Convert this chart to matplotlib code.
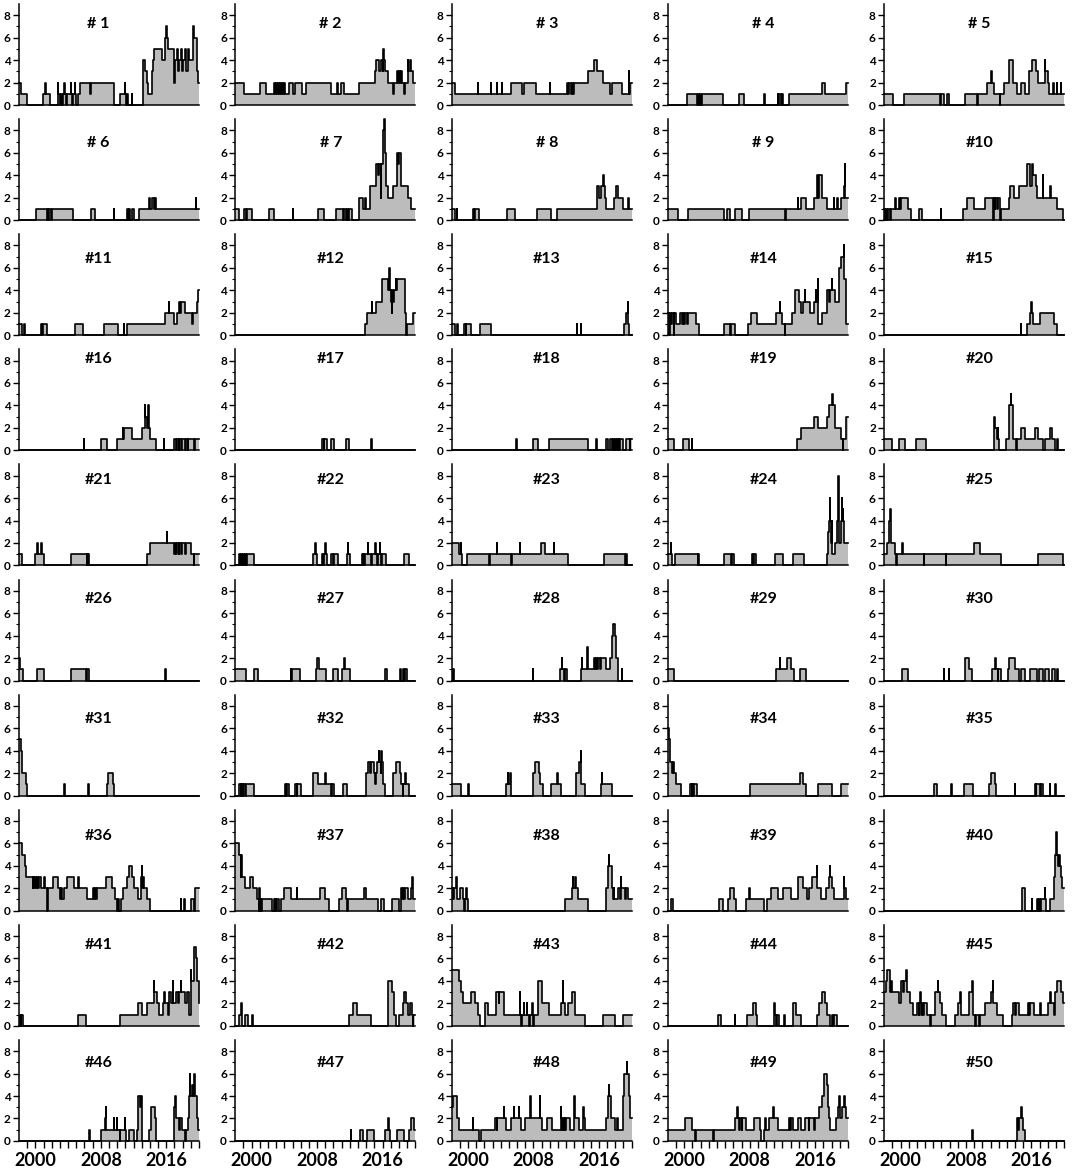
"""Small-multiples step charts, 50 panels of yearly counts (1998-2020)."""

import matplotlib

matplotlib.use("Agg")
import matplotlib.pyplot as plt
from matplotlib.ticker import FixedLocator
import matplotlib.transforms as mtransforms

plt.rcParams["font.family"] = ["Lato", "DejaVu Sans"]
plt.rcParams["font.weight"] = "bold"

# each panel: (year the level starts, level) -- held until the next entry / 2020
P01 = [(1998.0, 2), (1998.2, 1), (1999.0, 0), (2000.9, 1), (2001.2, 2), (2001.26, 1), (2001.8, 0),
       (2002.75, 2), (2002.8, 1), (2003.0, 0), (2003.1, 1), (2003.3, 0), (2003.4, 1), (2003.55, 2),
       (2003.6, 1), (2003.8, 0), (2003.9, 1), (2004.3, 2), (2004.35, 1), (2004.5, 0), (2004.6, 1),
       (2004.85, 2), (2004.9, 1), (2005.0, 0), (2005.15, 1), (2005.4, 2), (2006.7, 1), (2006.75, 2),
       (2009.6, 0), (2010.4, 1), (2010.9, 2), (2010.95, 1), (2011.1, 0), (2011.2, 1), (2011.3, 0),
       (2011.8, 1), (2011.85, 0), (2013.1, 1), (2013.2, 4), (2013.45, 3), (2013.6, 2), (2013.75, 1),
       (2014.2, 3), (2014.35, 4), (2014.5, 5), (2015.5, 4), (2015.8, 6), (2016.0, 7), (2016.1, 6),
       (2016.2, 5), (2017.0, 2), (2017.1, 4), (2017.35, 5), (2017.4, 3), (2017.6, 4), (2017.85, 5),
       (2017.9, 3), (2018.1, 4), (2018.3, 5), (2018.35, 3), (2018.6, 4), (2018.7, 5), (2018.75, 4),
       (2019.3, 7), (2019.4, 6), (2019.7, 4), (2019.8, 3), (2019.9, 2)]
P02 = [(1998.0, 2), (1999.05, 1), (2001.0, 2), (2001.8, 1), (2002.75, 2), (2002.85, 1), (2002.95, 2),
       (2003.1, 1), (2003.2, 2), (2003.35, 1), (2003.5, 2), (2003.6, 1), (2003.75, 2), (2003.85, 1),
       (2004.0, 2), (2004.1, 1), (2004.55, 2), (2005.0, 1), (2005.3, 2), (2006.15, 1), (2006.7, 2),
       (2009.65, 1), (2010.4, 2), (2010.5, 1), (2010.95, 2), (2011.3, 1), (2013.15, 2), (2015.1, 3),
       (2015.25, 4), (2015.6, 3), (2015.75, 4), (2016.0, 3), (2016.05, 5), (2016.15, 4), (2016.35, 3),
       (2016.65, 2), (2017.3, 1), (2017.35, 2), (2017.75, 3), (2017.85, 2), (2018.0, 3), (2018.1, 2),
       (2018.2, 3), (2018.4, 2), (2018.6, 1), (2018.7, 2), (2019.05, 4), (2019.15, 3), (2019.4, 4),
       (2019.5, 3), (2019.7, 2)]
P03 = [(1998.0, 2), (1998.4, 1), (2001.2, 2), (2001.26, 1), (2002.8, 2), (2002.86, 1), (2003.5, 2),
       (2003.56, 1), (2004.1, 2), (2004.16, 1), (2005.2, 2), (2006.55, 1), (2006.8, 2), (2008.35, 1),
       (2010.0, 2), (2010.06, 1), (2012.1, 2), (2012.25, 1), (2012.4, 2), (2012.55, 1), (2012.7, 2),
       (2012.85, 1), (2013.0, 2), (2014.7, 3), (2015.4, 4), (2015.8, 3), (2016.5, 2), (2017.3, 1),
       (2017.6, 2), (2018.8, 1), (2019.65, 3), (2019.72, 1), (2019.8, 2)]
P04 = [(1998.0, 0), (2000.3, 1), (2001.6, 0), (2001.7, 1), (2001.8, 0), (2001.9, 1), (2002.0, 0),
       (2002.15, 1), (2004.7, 0), (2006.75, 1), (2007.3, 0), (2009.8, 1), (2009.86, 0), (2011.4, 1),
       (2011.5, 0), (2011.6, 1), (2011.8, 0), (2011.9, 1), (2012.1, 0), (2012.8, 1), (2016.8, 2),
       (2017.25, 1), (2019.8, 2)]
P05 = [(1998.0, 1), (1999.1, 0), (2000.4, 1), (2004.8, 0), (2005.0, 1), (2005.35, 0), (2005.7, 1),
       (2005.9, 0), (2007.9, 1), (2009.4, 0), (2009.5, 1), (2010.6, 2), (2011.0, 3), (2011.2, 2),
       (2011.4, 1), (2012.1, 0), (2012.15, 1), (2012.7, 2), (2013.3, 4), (2013.8, 2), (2014.2, 1),
       (2014.7, 2), (2015.15, 1), (2015.75, 3), (2016.05, 4), (2016.5, 3), (2016.8, 2), (2017.6, 4),
       (2017.65, 3), (2018.0, 2), (2018.2, 1), (2018.65, 2), (2018.7, 1), (2019.1, 2), (2019.15, 1),
       (2019.6, 2), (2019.65, 1)]
P06 = [(1998.0, 0), (2000.1, 1), (2001.4, 0), (2001.5, 1), (2001.6, 0), (2001.7, 1), (2001.9, 0),
       (2002.05, 1), (2004.6, 0), (2006.8, 1), (2007.3, 0), (2009.6, 1), (2009.66, 0), (2011.2, 1),
       (2011.3, 0), (2011.45, 1), (2011.55, 0), (2011.75, 1), (2012.1, 0), (2012.7, 1), (2013.9, 2),
       (2014.0, 1), (2014.3, 2), (2014.5, 1), (2014.6, 2), (2014.7, 1), (2019.6, 2), (2019.66, 1)]
P07 = [(1998.0, 1), (1998.45, 0), (1999.05, 1), (1999.3, 0), (1999.4, 1), (2000.05, 0), (2002.15, 1),
       (2002.7, 0), (2005.0, 1), (2005.06, 0), (2008.05, 1), (2008.9, 0), (2010.3, 1), (2011.2, 0),
       (2011.3, 1), (2011.5, 0), (2011.6, 1), (2011.8, 0), (2011.9, 1), (2012.3, 0), (2013.15, 2),
       (2013.6, 1), (2013.8, 2), (2014.0, 1), (2014.45, 3), (2015.25, 5), (2015.4, 4), (2015.55, 5),
       (2015.75, 2), (2015.8, 5), (2016.0, 7), (2016.1, 8), (2016.2, 9), (2016.26, 7), (2016.35, 6),
       (2016.45, 3), (2016.65, 2), (2017.3, 3), (2017.75, 6), (2017.85, 5), (2017.95, 6), (2018.2, 3),
       (2019.05, 2), (2019.5, 1)]
P08 = [(1998.0, 1), (1998.4, 0), (1998.65, 1), (1998.71, 0), (2000.6, 1), (2000.75, 0), (2000.85, 1),
       (2001.3, 0), (2004.8, 1), (2005.7, 0), (2008.4, 1), (2010.1, 0), (2010.9, 1), (2015.8, 3),
       (2016.0, 2), (2016.3, 3), (2016.55, 4), (2016.62, 3), (2016.7, 2), (2016.9, 1), (2017.8, 2),
       (2018.1, 3), (2018.3, 2), (2018.9, 1), (2019.6, 2), (2019.66, 1)]
P09 = [(1998.0, 1), (1999.2, 0), (2000.5, 1), (2004.9, 0), (2005.2, 1), (2005.6, 0), (2006.2, 1),
       (2007.1, 0), (2007.9, 1), (2012.35, 0), (2012.4, 1), (2013.9, 2), (2013.96, 1), (2014.3, 2),
       (2014.9, 1), (2015.85, 2), (2016.2, 4), (2016.4, 2), (2016.5, 4), (2016.85, 2), (2017.4, 1),
       (2018.25, 2), (2018.31, 1), (2018.7, 2), (2018.76, 1), (2019.2, 2), (2019.55, 3), (2019.65, 5),
       (2019.7, 2)]
P10 = [(1998.0, 1), (1998.15, 0), (1998.25, 1), (1998.4, 0), (1998.5, 1), (1998.7, 0), (1998.8, 1),
       (1999.35, 2), (1999.41, 1), (1999.75, 2), (1999.9, 1), (2000.0, 2), (2000.85, 1), (2001.3, 0),
       (2002.2, 1), (2002.6, 0), (2004.9, 1), (2004.96, 0), (2007.65, 1), (2008.1, 2), (2009.0, 1),
       (2010.3, 2), (2011.3, 0), (2011.36, 2), (2011.5, 1), (2011.6, 2), (2011.8, 1), (2011.9, 2),
       (2012.2, 0), (2012.26, 1), (2013.2, 2), (2013.4, 3), (2013.85, 2), (2014.5, 3), (2015.4, 5),
       (2015.8, 3), (2016.1, 5), (2016.2, 4), (2016.5, 3), (2016.7, 2), (2017.4, 4), (2017.46, 2),
       (2018.3, 3), (2018.36, 2), (2019.1, 1), (2019.8, 0)]
P11 = [(1998.0, 1), (1998.35, 0), (1998.65, 1), (1998.71, 0), (2000.7, 1), (2000.8, 0), (2000.9, 1),
       (2001.4, 0), (2004.8, 1), (2005.8, 0), (2008.35, 1), (2010.1, 0), (2010.8, 1), (2010.86, 0),
       (2011.2, 1), (2015.8, 2), (2016.3, 3), (2016.36, 2), (2017.0, 1), (2017.3, 2), (2017.55, 3),
       (2017.7, 2), (2017.8, 3), (2018.3, 2), (2019.2, 1), (2019.26, 2), (2019.8, 3), (2019.9, 4)]
P12 = [(1998.0, 0), (2013.8, 1), (2014.05, 2), (2014.7, 3), (2014.76, 2), (2015.2, 3), (2015.9, 5),
       (2016.65, 4), (2016.75, 6), (2016.85, 4), (2017.05, 3), (2017.15, 2), (2017.2, 4), (2017.3, 3),
       (2017.35, 4), (2017.6, 5), (2017.7, 4), (2017.8, 5), (2018.7, 2), (2018.85, 0), (2018.95, 1),
       (2019.7, 2)]
P13 = [(1998.0, 1), (1998.4, 0), (1998.6, 1), (1998.8, 0), (1999.5, 1), (1999.7, 0), (1999.8, 1),
       (2000.4, 0), (2001.5, 1), (2002.8, 0), (2013.3, 1), (2013.36, 0), (2013.8, 1), (2013.86, 0),
       (2019.1, 1), (2019.3, 2), (2019.5, 3), (2019.56, 1), (2019.7, 0)]
P14 = [(1998.0, 2), (1998.15, 0), (1998.25, 2), (1998.4, 1), (1998.5, 2), (1998.7, 0), (1998.8, 2),
       (1999.0, 1), (1999.45, 2), (1999.7, 1), (1999.8, 2), (2000.0, 1), (2000.1, 2), (2000.3, 1),
       (2000.4, 2), (2001.4, 1), (2001.85, 0), (2004.9, 1), (2005.6, 0), (2005.7, 1), (2006.2, 0),
       (2007.75, 1), (2008.2, 2), (2008.85, 1), (2011.25, 2), (2011.65, 3), (2011.72, 2), (2012.0, 1),
       (2012.3, 0), (2012.36, 1), (2013.2, 2), (2013.55, 4), (2014.0, 3), (2014.3, 2), (2014.55, 3),
       (2014.7, 4), (2014.76, 3), (2015.4, 2), (2015.85, 3), (2016.1, 4), (2016.15, 3), (2016.35, 5),
       (2016.4, 1), (2016.85, 2), (2017.4, 4), (2017.7, 3), (2017.8, 4), (2018.0, 5), (2018.1, 4),
       (2018.4, 3), (2018.9, 6), (2019.1, 7), (2019.5, 8), (2019.56, 5), (2019.8, 1)]
P15 = [(1998.0, 0), (2014.7, 1), (2014.76, 0), (2015.4, 1), (2015.8, 2), (2016.0, 3), (2016.06, 2),
       (2016.2, 1), (2017.1, 2), (2018.7, 1), (2019.1, 0)]
P16 = [(1998.0, 0), (2005.9, 1), (2005.96, 0), (2008.05, 1), (2008.8, 0), (2010.0, 1), (2010.65, 2),
       (2010.75, 1), (2010.85, 2), (2011.85, 1), (2013.0, 2), (2013.4, 4), (2013.46, 3), (2013.6, 2),
       (2013.8, 4), (2013.86, 2), (2014.0, 1), (2014.8, 0), (2015.7, 1), (2015.76, 0), (2017.0, 1),
       (2017.2, 0), (2017.3, 1), (2017.5, 0), (2017.6, 1), (2017.8, 0), (2017.9, 1), (2018.3, 0),
       (2018.4, 1), (2018.6, 0), (2018.7, 1), (2019.4, 0), (2019.55, 1)]
P17 = [(1998.0, 0), (2008.6, 1), (2008.8, 0), (2008.9, 1), (2009.15, 0), (2009.65, 1), (2010.1, 0),
       (2011.5, 1), (2011.85, 0), (2014.6, 1), (2014.66, 0)]
P18 = [(1998.0, 0), (2005.9, 1), (2005.96, 0), (2007.9, 1), (2008.6, 0), (2009.9, 1), (2014.7, 0),
       (2015.7, 1), (2015.76, 0), (2016.9, 1), (2017.1, 0), (2017.3, 1), (2017.6, 0), (2017.7, 1),
       (2017.9, 0), (2018.0, 1), (2018.1, 0), (2018.2, 1), (2018.3, 0), (2018.4, 1), (2018.5, 0),
       (2018.6, 1), (2019.0, 0), (2019.3, 1), (2019.75, 0), (2019.85, 1)]
P19 = [(1998.0, 1), (1998.8, 0), (1999.9, 1), (2000.55, 0), (2000.9, 1), (2000.96, 0), (2013.75, 1),
       (2014.3, 2), (2015.85, 3), (2016.3, 2), (2017.4, 3), (2017.7, 4), (2018.1, 5), (2018.2, 4),
       (2018.4, 2), (2019.1, 1), (2019.35, 0), (2019.45, 1), (2019.8, 3)]
P20 = [(1998.0, 1), (1999.0, 0), (1999.75, 1), (2000.55, 0), (2001.9, 1), (2003.05, 0), (2011.4, 3),
       (2011.5, 2), (2011.75, 1), (2011.85, 2), (2011.95, 1), (2012.05, 0), (2012.9, 1), (2013.25, 4),
       (2013.45, 5), (2013.55, 4), (2013.7, 1), (2014.1, 0), (2014.2, 1), (2014.7, 2), (2015.15, 1),
       (2016.4, 2), (2016.8, 1), (2017.35, 0), (2017.6, 1), (2018.25, 2), (2018.5, 1), (2018.9, 0),
       (2019.15, 1), (2019.2, 0)]
P21 = [(1998.0, 1), (1998.35, 0), (1999.9, 1), (2000.25, 2), (2000.3, 1), (2000.75, 2), (2000.8, 1),
       (2001.1, 0), (2004.3, 1), (2006.25, 0), (2006.3, 1), (2006.4, 0), (2006.45, 1), (2006.6, 0),
       (2013.7, 1), (2014.0, 2), (2016.05, 3), (2016.1, 2), (2017.0, 1), (2017.1, 2), (2017.2, 1),
       (2017.3, 2), (2017.55, 1), (2017.6, 2), (2017.8, 1), (2017.9, 2), (2018.25, 1), (2018.35, 2),
       (2019.0, 1), (2019.35, 0), (2019.41, 1)]
P22 = [(1998.0, 0), (1998.4, 1), (1998.55, 0), (1998.65, 1), (1998.8, 0), (1998.9, 1), (1999.1, 0),
       (1999.2, 1), (1999.35, 0), (1999.45, 1), (2000.3, 0), (2007.5, 1), (2007.8, 2), (2007.86, 1),
       (2007.95, 0), (2008.55, 1), (2008.7, 0), (2008.8, 1), (2009.0, 2), (2009.06, 1), (2009.2, 0),
       (2009.65, 1), (2010.0, 0), (2010.1, 1), (2010.5, 0), (2011.6, 1), (2011.75, 2), (2011.81, 1),
       (2012.0, 0), (2013.45, 1), (2013.55, 0), (2013.65, 1), (2013.75, 0), (2013.85, 1), (2014.2, 2),
       (2014.26, 1), (2014.6, 0), (2014.66, 1), (2015.1, 2), (2015.16, 1), (2015.3, 0), (2015.4, 1),
       (2015.65, 2), (2015.71, 1), (2015.8, 0), (2015.9, 1), (2016.4, 0), (2018.6, 1), (2019.25, 0)]
P23 = [(1998.0, 2), (1998.9, 1), (1999.1, 2), (1999.2, 1), (1999.3, 0), (1999.9, 1), (2002.6, 0),
       (2002.66, 1), (2003.5, 2), (2003.56, 1), (2005.3, 0), (2005.36, 1), (2006.3, 2), (2006.36, 1),
       (2008.9, 2), (2009.45, 1), (2010.5, 2), (2010.56, 1), (2012.2, 0), (2016.6, 1), (2019.2, 0),
       (2019.3, 1), (2019.4, 0)]
P24 = [(1998.0, 1), (1998.35, 2), (1998.41, 1), (1998.55, 0), (1998.9, 1), (2001.65, 0), (2001.7, 1),
       (2001.85, 0), (2004.9, 1), (2005.75, 0), (2005.85, 1), (2006.1, 0), (2008.3, 1), (2008.45, 0),
       (2008.55, 1), (2008.75, 0), (2011.1, 1), (2012.1, 0), (2013.3, 1), (2014.6, 0), (2017.4, 1),
       (2017.6, 3), (2017.75, 4), (2017.8, 6), (2017.86, 4), (2017.95, 2), (2018.05, 4), (2018.11, 1),
       (2018.4, 2), (2018.7, 4), (2018.85, 8), (2018.91, 2), (2019.1, 4), (2019.25, 6), (2019.31, 4),
       (2019.4, 5), (2019.46, 4), (2019.55, 2)]
P25 = [(1998.0, 1), (1998.3, 2), (1998.6, 4), (1998.75, 5), (1998.81, 2), (1999.3, 1), (1999.45, 0),
       (1999.6, 1), (2000.2, 2), (2000.26, 1), (2002.85, 0), (2002.9, 1), (2005.55, 0), (2005.6, 1),
       (2009.0, 2), (2009.65, 1), (2012.3, 0), (2016.8, 1), (2019.8, 0)]
P26 = [(1998.0, 2), (1998.1, 1), (1998.5, 0), (2000.2, 1), (2001.1, 0), (2004.3, 1), (2006.2, 0),
       (2006.25, 1), (2006.5, 0), (2015.9, 1), (2015.96, 0)]
P27 = [(1998.0, 1), (1999.3, 0), (2000.25, 1), (2000.8, 0), (2004.75, 1), (2004.85, 0), (2004.9, 1),
       (2005.95, 0), (2007.9, 1), (2008.0, 2), (2008.2, 1), (2009.1, 0), (2010.0, 1), (2010.5, 0),
       (2011.1, 1), (2011.3, 2), (2011.45, 1), (2012.0, 0), (2016.35, 1), (2016.6, 0), (2018.1, 1),
       (2018.3, 0), (2018.45, 1), (2018.6, 0), (2018.7, 1), (2019.0, 0)]
P28 = [(1998.0, 0), (1998.2, 1), (1998.26, 0), (2007.9, 1), (2007.96, 0), (2011.3, 1), (2011.45, 2),
       (2011.51, 1), (2011.7, 0), (2011.8, 1), (2012.1, 0), (2013.8, 1), (2013.9, 2), (2013.96, 1),
       (2014.6, 3), (2014.66, 1), (2015.4, 2), (2015.55, 1), (2015.65, 2), (2015.8, 1), (2015.9, 2),
       (2016.1, 1), (2016.2, 2), (2016.9, 1), (2017.3, 2), (2017.6, 4), (2017.75, 5), (2017.95, 4),
       (2018.05, 2), (2018.3, 0), (2018.8, 1), (2018.86, 0)]
P29 = [(1998.0, 1), (1998.8, 0), (2011.25, 1), (2011.65, 2), (2011.71, 1), (2012.55, 2), (2013.0, 1),
       (2013.4, 0), (2014.2, 1), (2014.85, 0)]
P30 = [(1998.0, 0), (2000.2, 1), (2000.85, 0), (2005.25, 1), (2005.31, 0), (2005.9, 1), (2005.96, 0),
       (2007.9, 2), (2008.35, 1), (2008.7, 0), (2011.2, 1), (2011.55, 2), (2011.61, 1), (2011.85, 0),
       (2011.9, 1), (2012.3, 0), (2013.1, 1), (2013.3, 2), (2014.0, 1), (2014.5, 0), (2014.7, 1),
       (2015.15, 0), (2015.8, 1), (2016.7, 0), (2016.9, 1), (2017.45, 0), (2017.7, 1), (2018.2, 0),
       (2018.45, 1), (2018.9, 0), (2019.1, 1), (2019.3, 0)]
P31 = [(1998.0, 5), (1998.2, 4), (1998.35, 2), (1998.8, 1), (1999.0, 0), (2003.55, 1), (2003.65, 0),
       (2006.4, 1), (2006.5, 0), (2008.8, 1), (2008.9, 2), (2009.45, 1), (2009.6, 0)]
P32 = [(1998.0, 0), (1998.5, 1), (1998.65, 0), (1998.75, 1), (1998.9, 0), (1999.0, 1), (1999.15, 0),
       (1999.25, 1), (2000.3, 0), (2004.1, 1), (2004.2, 0), (2004.3, 1), (2004.55, 0), (2005.3, 1),
       (2005.5, 0), (2005.6, 1), (2006.05, 0), (2007.5, 2), (2008.1, 1), (2009.0, 2), (2009.06, 1),
       (2009.65, 0), (2009.85, 1), (2010.05, 0), (2011.2, 1), (2011.6, 0), (2014.0, 2), (2014.25, 3),
       (2014.5, 2), (2014.6, 3), (2014.9, 2), (2015.1, 1), (2015.2, 2), (2015.35, 3), (2015.55, 4),
       (2015.61, 3), (2015.8, 2), (2015.85, 4), (2015.91, 3), (2016.0, 1), (2016.3, 0), (2017.3, 2),
       (2017.65, 3), (2018.1, 2), (2018.3, 1), (2018.5, 0), (2018.55, 1), (2018.8, 2), (2018.86, 1),
       (2019.25, 0)]
P33 = [(1998.0, 1), (1999.2, 0), (2000.05, 1), (2000.11, 0), (2004.6, 1), (2004.85, 2), (2004.95, 1),
       (2005.15, 2), (2005.25, 0), (2007.9, 2), (2008.25, 3), (2008.7, 2), (2008.8, 1), (2009.2, 0),
       (2010.1, 1), (2010.9, 2), (2010.96, 1), (2011.4, 0), (2013.2, 2), (2013.55, 3), (2013.8, 4),
       (2013.86, 1), (2014.3, 0), (2016.25, 1), (2016.35, 2), (2016.41, 1), (2017.65, 0)]
P34 = [(1998.0, 6), (1998.1, 5), (1998.2, 4), (1998.3, 3), (1998.5, 2), (1998.6, 3), (1998.8, 2),
       (1999.0, 1), (1999.6, 0), (2000.75, 1), (2000.9, 0), (2001.0, 1), (2001.1, 0), (2001.2, 1),
       (2001.5, 0), (2008.0, 1), (2014.2, 2), (2014.5, 1), (2014.85, 0), (2016.4, 1), (2018.0, 0),
       (2019.1, 1)]
P35 = [(1998.0, 0), (2004.05, 1), (2004.5, 0), (2006.15, 1), (2006.25, 0), (2007.7, 1), (2008.8, 0),
       (2010.75, 1), (2011.1, 2), (2011.55, 1), (2011.7, 0), (2013.95, 1), (2014.01, 0), (2016.4, 1),
       (2016.5, 0), (2016.6, 1), (2017.1, 0), (2017.2, 1), (2017.35, 0), (2018.25, 1), (2018.31, 0),
       (2018.9, 1), (2018.96, 0)]
P36 = [(1998.0, 6), (1998.35, 5), (1998.7, 4), (1998.9, 3), (1999.65, 2), (1999.75, 3), (1999.85, 2),
       (1999.95, 3), (2000.05, 2), (2000.15, 3), (2000.3, 2), (2000.4, 3), (2000.75, 2), (2001.1, 3),
       (2001.2, 2), (2001.45, 0), (2001.55, 2), (2002.1, 3), (2002.75, 2), (2003.0, 1), (2003.1, 2),
       (2003.2, 1), (2003.5, 2), (2003.85, 3), (2004.7, 2), (2005.25, 3), (2005.3, 2), (2006.25, 1),
       (2007.1, 2), (2007.2, 1), (2007.3, 2), (2007.4, 1), (2007.5, 2), (2008.6, 3), (2009.35, 2),
       (2009.7, 1), (2010.0, 0), (2010.1, 1), (2010.2, 0), (2010.5, 1), (2010.65, 2), (2011.2, 3),
       (2011.4, 4), (2011.8, 3), (2012.0, 2), (2012.6, 1), (2012.85, 3), (2013.0, 4), (2013.06, 2),
       (2013.2, 3), (2013.3, 2), (2013.7, 1), (2013.95, 0), (2017.8, 1), (2017.86, 0), (2018.2, 1),
       (2018.26, 0), (2019.0, 1), (2019.4, 0), (2019.5, 2)]
P37 = [(1998.0, 6), (1998.45, 5), (1998.65, 3), (1998.75, 5), (1998.85, 3), (1999.2, 2), (1999.75, 3),
       (2000.2, 2), (2000.6, 1), (2000.9, 0), (2000.95, 2), (2001.0, 0), (2001.1, 1), (2001.2, 0),
       (2001.3, 1), (2002.45, 0), (2002.7, 1), (2002.8, 0), (2002.9, 1), (2003.0, 0), (2003.1, 1),
       (2003.3, 0), (2003.55, 1), (2004.0, 2), (2004.75, 1), (2005.5, 2), (2005.56, 1), (2008.35, 2),
       (2009.0, 1), (2009.4, 0), (2010.65, 1), (2011.1, 2), (2011.5, 1), (2011.7, 0), (2011.8, 1),
       (2013.7, 2), (2014.0, 1), (2015.5, 0), (2015.8, 1), (2016.2, 0), (2017.1, 1), (2017.95, 0),
       (2018.2, 2), (2018.35, 1), (2018.45, 2), (2018.6, 1), (2018.7, 2), (2019.05, 1), (2019.5, 2),
       (2019.6, 3), (2019.66, 2), (2019.75, 1)]
P38 = [(1998.0, 2), (1998.15, 1), (1998.25, 2), (1998.55, 3), (1998.61, 2), (1998.65, 1), (1999.0, 2),
       (1999.4, 1), (1999.55, 0), (1999.65, 1), (1999.8, 2), (1999.86, 1), (1999.95, 0), (2011.85, 1),
       (2012.7, 2), (2012.8, 3), (2012.86, 2), (2013.1, 3), (2013.16, 2), (2013.4, 1), (2014.7, 0),
       (2016.9, 2), (2017.1, 4), (2017.2, 5), (2017.26, 4), (2017.55, 2), (2017.7, 1), (2017.8, 2),
       (2017.9, 1), (2018.35, 2), (2018.55, 1), (2018.65, 3), (2018.71, 2), (2019.2, 1), (2019.35, 2),
       (2019.6, 1)]
P39 = [(1998.0, 0), (1998.35, 1), (1998.6, 0), (2004.25, 1), (2004.7, 0), (2005.35, 1), (2005.55, 2),
       (2006.1, 1), (2006.3, 0), (2007.6, 1), (2007.95, 2), (2008.01, 1), (2009.7, 0), (2010.15, 1),
       (2010.6, 2), (2011.5, 1), (2012.1, 2), (2013.0, 1), (2013.9, 3), (2014.55, 2), (2015.0, 1),
       (2015.2, 2), (2015.6, 3), (2016.2, 4), (2016.26, 2), (2016.7, 1), (2017.35, 2), (2017.65, 3),
       (2017.8, 4), (2017.86, 3), (2018.0, 2), (2018.25, 1), (2019.5, 3), (2019.56, 2), (2019.8, 1)]
P40 = [(1998.0, 0), (2014.8, 2), (2015.25, 0), (2016.05, 1), (2016.11, 0), (2016.7, 1), (2016.76, 0),
       (2016.9, 1), (2017.0, 0), (2017.2, 1), (2017.6, 2), (2017.66, 1), (2017.8, 0), (2018.25, 1),
       (2018.7, 3), (2018.9, 5), (2019.0, 7), (2019.06, 5), (2019.2, 4), (2019.35, 5), (2019.45, 4),
       (2019.55, 3), (2019.75, 2)]
P41 = [(1998.0, 0), (1998.1, 1), (1998.2, 0), (1998.3, 1), (1998.5, 0), (2005.25, 1), (2006.15, 0),
       (2010.35, 1), (2012.6, 2), (2013.0, 1), (2013.7, 2), (2014.45, 4), (2014.51, 3), (2014.9, 2),
       (2015.1, 1), (2015.55, 2), (2015.7, 3), (2015.85, 2), (2016.15, 1), (2016.35, 3), (2016.6, 2),
       (2016.8, 4), (2016.86, 2), (2017.2, 3), (2017.4, 2), (2017.5, 3), (2017.75, 4), (2017.81, 3),
       (2018.3, 2), (2018.55, 3), (2018.75, 1), (2019.0, 5), (2019.06, 4), (2019.4, 7), (2019.6, 6),
       (2019.8, 4), (2019.95, 2)]
P42 = [(1998.0, 0), (1998.5, 1), (1998.7, 2), (1998.76, 0), (1999.2, 1), (1999.6, 0), (2000.05, 1),
       (2000.11, 0), (2011.85, 1), (2012.4, 2), (2012.85, 1), (2014.6, 0), (2016.65, 4), (2017.2, 3),
       (2017.35, 1), (2017.65, 0), (2018.0, 1), (2018.5, 2), (2018.6, 3), (2018.9, 2), (2019.05, 1),
       (2019.4, 2), (2019.6, 1), (2019.7, 0), (2019.76, 1)]
P43 = [(1998.0, 5), (1998.9, 4), (1999.2, 3), (1999.45, 2), (2000.4, 3), (2000.85, 2), (2001.2, 1),
       (2001.5, 0), (2002.1, 2), (2002.4, 1), (2003.4, 3), (2003.75, 2), (2003.8, 3), (2004.35, 1),
       (2006.3, 3), (2006.36, 1), (2006.5, 0), (2006.6, 1), (2006.8, 2), (2006.86, 1), (2007.2, 2),
       (2007.26, 1), (2007.5, 0), (2007.6, 1), (2007.85, 2), (2007.95, 0), (2008.05, 1), (2008.55, 4),
       (2009.0, 2), (2009.9, 1), (2011.4, 2), (2011.6, 4), (2011.66, 2), (2011.9, 1), (2012.2, 2),
       (2012.75, 3), (2013.1, 1), (2014.3, 0), (2016.5, 1), (2018.0, 0), (2018.95, 1)]
P44 = [(1998.0, 0), (2004.15, 1), (2004.45, 0), (2006.2, 1), (2006.26, 0), (2007.65, 1), (2008.4, 2),
       (2008.75, 1), (2008.9, 0), (2011.0, 2), (2011.06, 1), (2011.2, 0), (2011.3, 1), (2011.55, 0),
       (2012.25, 1), (2012.31, 0), (2013.3, 2), (2013.65, 1), (2014.3, 0), (2016.2, 1), (2016.5, 2),
       (2016.8, 3), (2017.15, 2), (2017.5, 1), (2017.8, 0), (2018.0, 1), (2018.2, 0), (2018.3, 1),
       (2018.7, 0)]
P45 = [(1998.0, 3), (1998.2, 4), (1998.4, 5), (1998.65, 3), (1998.8, 4), (1998.9, 3), (1999.85, 2),
       (2000.1, 4), (2000.3, 3), (2000.45, 4), (2000.7, 5), (2000.76, 3), (2001.1, 2), (2001.5, 1),
       (2001.95, 2), (2002.2, 1), (2002.3, 2), (2002.4, 3), (2002.46, 1), (2002.6, 2), (2002.7, 1),
       (2002.85, 2), (2003.2, 1), (2003.55, 0), (2003.75, 1), (2004.15, 3), (2004.55, 4), (2004.61, 3),
       (2004.8, 2), (2005.1, 1), (2005.5, 0), (2006.6, 1), (2007.0, 2), (2007.3, 3), (2007.36, 1),
       (2008.35, 3), (2008.75, 4), (2008.81, 1), (2009.15, 0), (2009.2, 1), (2009.6, 0), (2009.65, 1),
       (2010.3, 2), (2011.0, 3), (2011.25, 4), (2011.31, 2), (2011.8, 1), (2012.5, 0), (2013.6, 1),
       (2013.8, 2), (2014.0, 1), (2014.1, 2), (2014.5, 1), (2015.6, 2), (2015.7, 1), (2015.8, 2),
       (2016.25, 1), (2017.1, 2), (2017.16, 1), (2018.0, 2), (2018.3, 3), (2018.36, 2), (2018.7, 1),
       (2018.9, 3), (2019.1, 4), (2019.65, 3), (2019.8, 2)]
P46 = [(1998.0, 0), (2006.6, 1), (2006.66, 0), (2008.0, 1), (2008.5, 2), (2008.6, 3), (2008.66, 1),
       (2009.6, 2), (2009.66, 1), (2009.95, 2), (2010.01, 1), (2010.35, 0), (2010.4, 1), (2010.95, 2),
       (2011.01, 1), (2011.1, 0), (2011.5, 1), (2012.1, 0), (2012.4, 1), (2012.6, 4), (2012.75, 3),
       (2012.85, 4), (2013.0, 2), (2013.05, 0), (2013.9, 1), (2014.15, 3), (2014.6, 2), (2014.8, 0),
       (2017.0, 3), (2017.1, 4), (2017.16, 3), (2017.2, 2), (2017.6, 1), (2017.7, 2), (2017.9, 1),
       (2018.3, 0), (2018.35, 1), (2018.6, 2), (2018.8, 4), (2018.9, 6), (2018.96, 4), (2019.15, 5),
       (2019.25, 4), (2019.4, 6), (2019.46, 4), (2019.75, 2), (2019.9, 1)]
P47 = [(1998.0, 0), (2012.1, 1), (2012.16, 0), (2013.3, 1), (2013.6, 0), (2014.15, 1), (2014.9, 0),
       (2016.35, 1), (2016.7, 2), (2016.76, 1), (2016.95, 0), (2017.75, 1), (2018.6, 0), (2019.25, 1),
       (2019.45, 2), (2019.9, 1)]
P48 = [(1998.0, 3), (1998.2, 4), (1998.65, 2), (1998.9, 1), (2000.6, 2), (2000.66, 1), (2001.3, 0),
       (2001.6, 1), (2003.3, 2), (2003.5, 1), (2003.6, 2), (2004.4, 3), (2004.46, 2), (2004.7, 1),
       (2005.2, 2), (2005.6, 3), (2005.66, 2), (2006.2, 3), (2006.26, 2), (2006.5, 1), (2007.0, 2),
       (2007.6, 4), (2007.66, 2), (2008.8, 4), (2008.86, 2), (2009.0, 1), (2009.7, 2), (2010.3, 1),
       (2011.35, 3), (2011.41, 2), (2011.5, 1), (2011.6, 2), (2011.7, 1), (2011.8, 2), (2011.9, 1),
       (2012.0, 2), (2012.5, 1), (2013.0, 4), (2013.06, 2), (2013.6, 1), (2014.1, 3), (2014.16, 2),
       (2014.3, 1), (2016.9, 2), (2017.1, 4), (2017.2, 5), (2017.26, 4), (2017.5, 2), (2018.0, 1),
       (2018.2, 2), (2018.3, 1), (2018.9, 4), (2019.1, 6), (2019.4, 7), (2019.46, 6), (2019.65, 4),
       (2019.85, 2)]
P49 = [(1998.0, 1), (2000.1, 2), (2001.0, 1), (2001.35, 0), (2001.45, 1), (2003.5, 0), (2003.6, 1),
       (2006.2, 2), (2006.5, 3), (2006.56, 2), (2006.7, 1), (2006.8, 2), (2007.0, 1), (2007.1, 2),
       (2007.5, 1), (2008.5, 2), (2009.2, 1), (2009.4, 0), (2009.7, 1), (2009.9, 2), (2009.96, 1),
       (2010.4, 2), (2010.9, 3), (2010.96, 2), (2011.5, 1), (2012.8, 2), (2012.9, 1), (2013.0, 2),
       (2013.3, 1), (2013.9, 2), (2014.3, 1), (2014.75, 2), (2015.2, 1), (2015.3, 2), (2015.8, 1),
       (2016.0, 2), (2016.5, 3), (2016.85, 4), (2017.1, 6), (2017.4, 5), (2017.55, 3), (2017.7, 2),
       (2017.85, 1), (2018.5, 2), (2018.85, 3), (2018.95, 4), (2019.01, 2), (2019.3, 3), (2019.55, 4),
       (2019.61, 3), (2019.8, 2)]
P50 = [(1998.0, 0), (2008.75, 1), (2008.81, 0), (2014.2, 2), (2014.35, 1), (2014.45, 2), (2014.75, 3),
       (2014.81, 2), (2014.95, 1), (2015.25, 0)]

PANELS = [P01, P02, P03, P04, P05, P06, P07, P08, P09, P10,
          P11, P12, P13, P14, P15, P16, P17, P18, P19, P20,
          P21, P22, P23, P24, P25, P26, P27, P28, P29, P30,
          P31, P32, P33, P34, P35, P36, P37, P38, P39, P40,
          P41, P42, P43, P44, P45, P46, P47, P48, P49, P50]

YEAR_START, YEAR_END = 1998.0, 2020.0
YEAR_LABELS = [2000, 2008, 2016]
TITLE_Y = [7.2, 6.9, 6.8, 8.1, 7.6, 7.3, 6.85, 6.7, 7.2, 6.9]

FILL = "#bcbcbc"
W, H = 1072, 1173


def panel_title(n: int) -> str:
    return f"# {n}" if n < 10 else f"#{n}"


def main() -> None:
    fig = plt.figure(figsize=(W / 100, H / 100), dpi=100)

    for i, steps in enumerate(PANELS):
        row, col = divmod(i, 5)
        x0 = 19 + 216.3 * col
        zero = 105 + 115.1 * row
        ax = fig.add_axes([x0 / W, (H - zero) / H, 180 / W, 101 / H])

        t = [s[0] for s in steps] + [YEAR_END]
        v = [s[1] for s in steps] + [steps[-1][1]]
        ax.fill_between(t, v, step="post", color=FILL, linewidth=0)
        ax.step(t, v, where="post", color="black", linewidth=1.2, clip_on=False)

        ax.set_xlim(YEAR_START, YEAR_END)
        ax.set_ylim(0, 9)
        for side in ("top", "right"):
            ax.spines[side].set_visible(False)
        for side in ("left", "bottom"):
            ax.spines[side].set_linewidth(1.1)

        ax.set_yticks([0, 2, 4, 6, 8])
        ax.yaxis.set_minor_locator(FixedLocator([1, 3, 5, 7]))
        ax.tick_params(axis="y", which="major", length=4, width=1.0, pad=2, labelsize=8.5)
        ax.tick_params(axis="y", which="minor", length=2.5, width=0.8)

        if row == 9:
            ax.set_xticks(YEAR_LABELS)
            ax.set_xticklabels([str(y) for y in YEAR_LABELS])
            ax.xaxis.set_minor_locator(FixedLocator(list(range(1999, 2021))))
            ax.tick_params(axis="x", which="both", length=5, width=1.0, pad=3, labelsize=13)
        else:
            ax.set_xticks([])

        tx = 0.44 if col == 0 else 0.53
        trans = mtransforms.blended_transform_factory(ax.transAxes, ax.transData)
        ax.text(tx, TITLE_Y[row], panel_title(i + 1), transform=trans,
                ha="center", va="center", fontsize=11.5, fontweight="bold")

    fig.savefig("out.png", dpi=100)
    plt.close(fig)


if __name__ == "__main__":
    main()
